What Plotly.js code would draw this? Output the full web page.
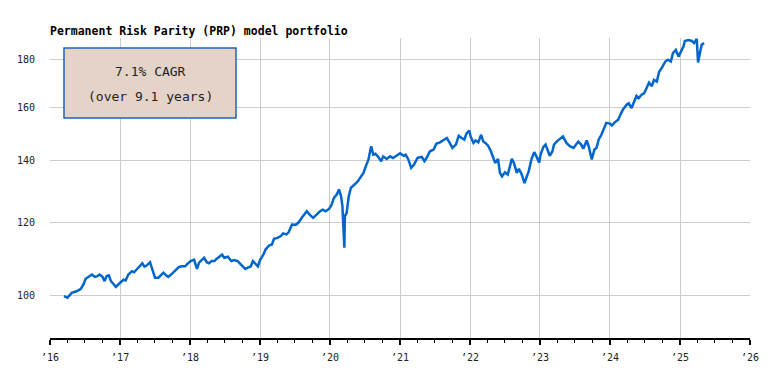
<!DOCTYPE html>
<html>
<head>
<meta charset="utf-8">
<script src="https://cdn.plot.ly/plotly-3.0.1.min.js"></script>
<style>html,body{margin:0;padding:0;background:#fff;}#chart{width:783px;height:379px;}</style>
</head>
<body>
<div id="chart"></div>
<script>
// Dates as decimal years
const yearsDec = [
2016.20,2016.25,2016.31,2016.38,2016.44,2016.48,2016.51,2016.55,2016.60,2016.64,2016.68,2016.71,2016.75,2016.78,2016.81,2016.84,2016.87,2016.90,2016.94,2016.98,
2017.01,2017.05,2017.08,2017.12,2017.17,2017.20,2017.24,2017.29,2017.32,2017.35,2017.38,2017.43,2017.46,2017.50,2017.55,2017.59,2017.62,2017.66,2017.69,2017.73,2017.76,2017.80,2017.84,2017.88,2017.93,2017.97,
2018.01,2018.06,2018.10,2018.13,2018.18,2018.20,2018.24,2018.27,2018.31,2018.35,2018.38,2018.43,2018.46,2018.49,2018.54,2018.59,2018.63,2018.68,2018.73,2018.79,2018.82,2018.87,2018.90,2018.93,2018.97,
2019.00,2019.05,2019.08,2019.13,2019.17,2019.20,2019.25,2019.30,2019.33,2019.38,2019.41,2019.46,2019.51,2019.55,2019.60,2019.63,2019.67,2019.71,2019.76,2019.81,2019.86,2019.90,2019.94,2019.99,
2020.02,2020.06,2020.10,2020.13,2020.16,2020.18,2020.19,2020.205,2020.215,2020.24,2020.27,2020.30,2020.35,2020.40,2020.43,2020.48,2020.51,2020.55,2020.59,2020.62,2020.65,2020.69,2020.73,2020.76,2020.81,2020.86,2020.90,2020.95,
2021.00,2021.05,2021.08,2021.12,2021.16,2021.20,2021.25,2021.31,2021.35,2021.38,2021.43,2021.48,2021.52,2021.57,2021.62,2021.67,2021.71,2021.75,2021.80,2021.84,2021.88,2021.92,2021.95,2021.99,
2022.01,2022.05,2022.08,2022.12,2022.16,2022.19,2022.22,2022.26,2022.30,2022.33,2022.36,2022.40,2022.43,2022.46,2022.50,2022.54,2022.57,2022.60,2022.63,2022.67,2022.70,2022.74,2022.78,2022.81,2022.84,2022.88,2022.92,2022.95,2022.99,
2023.01,2023.05,2023.08,2023.11,2023.14,2023.18,2023.20,2023.24,2023.29,2023.33,2023.38,2023.43,2023.48,2023.51,2023.55,2023.59,2023.62,2023.67,2023.70,2023.74,2023.78,2023.81,2023.84,2023.88,2023.92,2023.95,
2024.00,2024.03,2024.07,2024.12,2024.16,2024.19,2024.24,2024.27,2024.31,2024.35,2024.38,2024.41,2024.45,2024.49,2024.52,2024.56,2024.60,2024.63,2024.67,2024.70,2024.74,2024.79,2024.83,2024.87,2024.90,2024.94,2024.98,
2025.01,2025.05,2025.07,2025.12,2025.17,2025.20,2025.24,2025.25,2025.26,2025.29,2025.31,2025.33,2025.34
];
const portfolioValue = [
99.9,99.5,100.7,101.1,101.7,102.9,104.3,104.8,105.4,104.8,105.0,105.4,104.8,103.7,105.0,105.2,103.7,103.1,102.2,102.9,
103.5,104.1,103.9,105.4,106.3,106.0,106.8,107.8,108.4,107.5,107.8,108.7,106.9,104.6,104.6,105.4,105.9,105.2,104.8,105.4,105.9,106.8,107.4,107.6,107.6,108.4,
109.0,109.4,106.9,108.6,109.6,109.9,108.7,108.4,109.0,109.0,109.6,110.2,110.8,109.9,110.2,109.0,109.3,109.0,108.1,106.9,107.2,107.6,109.0,108.4,107.6,
109.3,110.8,112.2,113.3,113.6,115.2,115.5,116.0,116.8,116.5,117.1,119.4,119.3,119.9,121.4,122.4,123.4,122.4,121.4,122.4,123.4,123.9,123.4,124.2,
125.2,127.6,128.7,130.3,128.1,125.0,117.9,112.7,121.9,122.9,128.1,130.8,131.9,133.0,134.1,135.8,137.9,140.4,145.1,142.1,142.4,141.3,139.8,141.5,140.6,141.5,140.9,141.7,
142.6,141.7,142.1,140.4,137.5,138.6,141.0,141.3,139.8,140.9,143.3,143.9,146.0,146.5,147.2,148.1,146.3,144.5,145.7,148.9,148.1,147.5,149.7,150.9,
148.7,146.3,147.2,146.5,149.3,146.8,146.3,145.3,143.3,141.3,139.2,140.6,135.8,134.6,136.0,135.2,138.6,140.6,139.2,135.8,137.2,135.2,132.4,134.4,136.3,140.6,143.0,141.5,139.3,
142.1,144.9,145.7,143.9,141.7,143.3,145.7,146.8,147.7,148.7,146.3,145.1,144.5,145.7,146.8,145.7,144.2,147.2,144.9,140.4,143.9,144.5,147.5,149.4,151.5,153.8,
153.5,152.8,154.0,155.0,157.5,159.1,160.9,161.5,159.6,162.3,164.5,163.6,164.9,165.6,167.7,170.0,168.5,171.2,170.5,174.5,176.3,179.2,180.0,179.2,183.0,184.5,181.4,
183.7,186.1,188.6,189.0,188.6,187.6,189.6,182.2,178.8,183.7,186.8,187.3,186.8
];
const yTickVals = [100, 120, 140, 160, 180];
const yTickText = ['100', '120', '140', '160', '180'];
const chartTitle = 'Permanent Risk Parity (PRP) model portfolio';
const boxLines = ['7.1% CAGR', '(over 9.1 years)'];

function decToDate(d) {
  const y = Math.floor(d);
  const start = Date.UTC(y, 0, 1), end = Date.UTC(y + 1, 0, 1);
  const t = new Date(start + (d - y) * (end - start));
  return t.toISOString().slice(0, 10);
}
const dates = yearsDec.map(decToDate);

const mono = '"DejaVu Sans Mono", "Liberation Mono", monospace';

const trace = {
  x: dates, y: portfolioValue, type: 'scatter', mode: 'lines',
  line: {color: '#0066cc', width: 2.5}, hoverinfo: 'skip'
};

const layout = {
  width: 783, height: 379,
  margin: {l: 50, r: 33, t: 38, b: 41},
  paper_bgcolor: '#fff', plot_bgcolor: '#fff',
  showlegend: false,
  title: {
    text: '<b>' + chartTitle + '</b>',
    x: 50 / 783, xanchor: 'left', xref: 'container',
    y: 1 - 31 / 379, yanchor: 'middle', yref: 'container',
    font: {family: mono, size: 11.5, color: '#000'}
  },
  xaxis: {
    type: 'date',
    range: ['2016-01-01', '2026-01-01'],
    tick0: '2016-01-01', dtick: 'M12',
    tickformat: '’%y',
    showgrid: true, gridcolor: '#cccccc', gridwidth: 1,
    showline: true, linecolor: '#000', linewidth: 2,
    ticks: 'outside', ticklen: 5, tickwidth: 1.5, tickcolor: '#000',
    minor: {dtick: 'M3', ticks: 'outside', ticklen: 3, tickwidth: 1, tickcolor: '#000', showgrid: false},
    tickfont: {family: mono, size: 10, color: '#222'},
    ticklabelstandoff: 4,
    zeroline: false, fixedrange: true
  },
  yaxis: {
    type: 'log',
    range: [Math.log10(90), Math.log10(190)],
    tickvals: yTickVals, ticktext: yTickText,
    showgrid: true, gridcolor: '#cccccc', gridwidth: 1,
    showline: false, ticks: '',
    tickfont: {family: mono, size: 10, color: '#222'},
    ticklabelstandoff: 14,
    zeroline: false, fixedrange: true
  },
  shapes: [{
    type: 'rect', xref: 'paper', yref: 'paper',
    x0: (64 - 50) / 700, x1: (236 - 50) / 700,
    y0: (338 - 118) / 300, y1: (338 - 48) / 300,
    fillcolor: '#e4d3c9', line: {color: '#1f64b4', width: 1.5}, layer: 'above'
  }],
  annotations: [
    {xref: 'paper', yref: 'paper', x: (150 - 50) / 700, y: (338 - 72) / 300,
     text: boxLines[0], showarrow: false, xanchor: 'center', yanchor: 'middle',
     font: {family: mono, size: 13, color: '#222'}},
    {xref: 'paper', yref: 'paper', x: (150 - 50) / 700, y: (338 - 96) / 300,
     text: boxLines[1], showarrow: false, xanchor: 'center', yanchor: 'middle',
     font: {family: mono, size: 13, color: '#222'}}
  ]
};

Plotly.newPlot('chart', [trace], layout, {displayModeBar: false, staticPlot: true});
</script>
</body>
</html>
